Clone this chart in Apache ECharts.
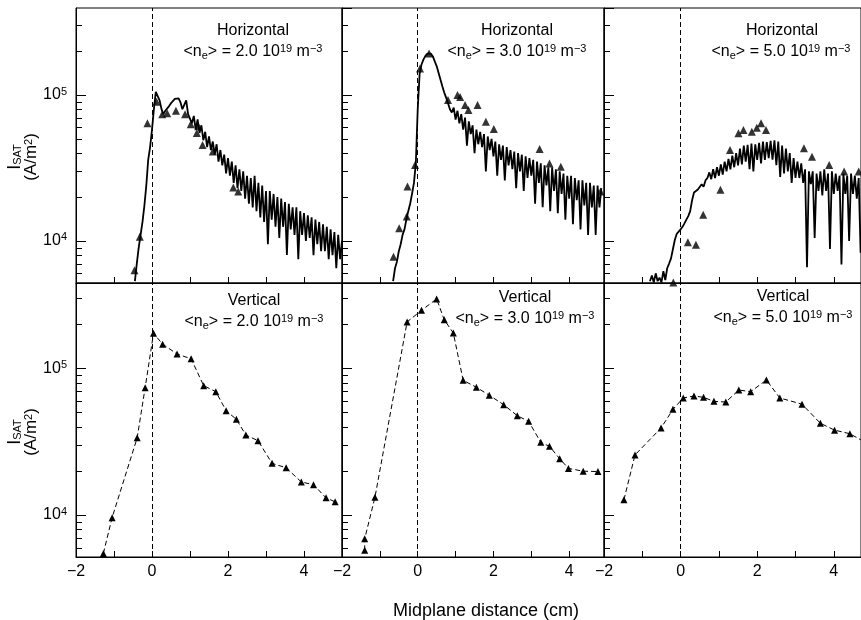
<!DOCTYPE html>
<html>
<head>
<meta charset="utf-8">
<script src="https://cdn.jsdelivr.net/npm/echarts@6/dist/echarts.min.js"></script>
<style>
  html, body { margin: 0; padding: 0; background: #fff; }
  #isat { width: 861px; height: 620px; }
</style>
</head>
<body>
<div id="isat"></div>
<script>
  var FONT = '"Liberation Sans", Arial, sans-serif';

  // probe traces (horizontal scan), one sample every 0.05 cm, values in 10^3 A/m2
  var sampleStep = 0.05;
  var hor20Start = -0.45;
  var hor20 = [5.3, 7.0, 9.0, 11.0, 13.5, 17.5, 24, 36, 44,
    58, 80, 105, 108, 92, 80, 74, 78, 76, 84, 88, 91, 94, 93, 95, 89, 80, 78, 92, 74,
    76, 64, 72, 58, 68, 55, 62, 49, 56, 44, 52, 42, 48, 39, 46, 35, 42, 33, 39, 29,
    37, 28, 35, 25, 33, 23, 31, 22, 30, 19.5, 28, 18, 27, 17, 28, 16, 25, 14.5, 24, 13.5,
    22, 9.5, 22, 14, 21, 12.5, 20, 10.5, 19.5, 12.5, 18.5, 8, 18, 12, 17, 11, 17, 7.5, 16, 11,
    15.5, 10, 15, 10.5, 14.5, 8, 14, 9.5, 13.5, 8.5, 13, 8.5, 12.5, 7.5, 12, 8, 11.5, 6.5, 11, 7.5, 10];
  var hor30Start = -0.65;
  var hor30 = [5.3, 6.5, 7.2, 8.5, 9.5, 11, 12, 14, 16, 18, 21, 25, 34,
    80, 140, 162, 175, 185, 192, 197, 192, 184, 170, 158, 142, 128, 115, 104, 96, 88, 80, 76, 82,
    68, 78, 64, 74, 58, 70, 45, 66, 54, 62, 40, 58, 46, 56, 44, 54, 30, 52, 42, 50,
    38, 48, 28, 46, 36, 45, 26, 44, 33, 42, 31, 41, 23, 40, 30, 39, 22, 38, 27, 37,
    28, 36, 18, 35, 25, 34, 17, 33, 24, 32, 16, 32, 22, 31, 15.5, 30, 21, 29, 14, 28,
    19.5, 28, 13, 27, 19, 26, 12, 26, 17.5, 25, 11, 25, 17, 24, 11, 24, 17, 23];
  var hor50Start = -0.80;
  var hor50 = [5.3, 5.8, 5.2, 6.0, 5.3, 5.6, 5.2, 6.2, 5.4, 6.5, 7.0, 7.6, 8.8, 10.2, 11.2, 11.6,
    12.0, 12.5, 13.2, 14, 14.8, 16, 19, 21.5, 21, 22.5, 22, 24.5, 23.5, 26, 27, 29.5, 26.5, 31, 27, 32,
    28, 33.5, 28.5, 35, 30, 36.5, 31, 38.5, 32, 40, 33, 43, 33.5, 45, 35, 45.5, 31, 46.5, 30, 46,
    36, 47, 34, 48, 36, 47.5, 37, 48.5, 36, 49, 33, 48, 27.5, 45, 29, 43, 30, 40, 25, 37,
    27, 35, 27, 34, 25, 31, 6.6, 30, 24.5, 30, 10.5, 29, 22, 30, 20.5, 31, 22, 29, 8.8, 30,
    21, 29, 22, 28, 6.9, 29, 21, 28, 10, 29, 21, 28, 19.5, 27, 8.3];

  // triangle measurements [cm, 10^3 A/m2]
  var horTri20 = [[-0.46, 6.3], [-0.32, 10.7], [-0.12, 64], [0.12, 90], [0.27, 74], [0.40, 75],
    [0.63, 78], [0.87, 74], [1.02, 63], [1.18, 55], [1.22, 61], [1.33, 45.5], [1.60, 41],
    [2.14, 23.2], [2.27, 21.8]];
  var horTri30 = [[-0.64, 7.8], [-0.49, 12.2], [-0.29, 14.7], [-0.27, 23.6], [-0.07, 33.2],
    [0.06, 152], [0.30, 193], [0.80, 92.5], [1.05, 100], [1.12, 97], [1.25, 85.5], [1.34, 79],
    [1.58, 85.5], [1.80, 65.6], [2.01, 58.5], [3.22, 42.7], [3.48, 34], [3.78, 32.3], [4.83, 21.8]];
  var horTri50 = [[-0.19, 5.2], [0.19, 9.8], [0.40, 9.4], [0.59, 15.1], [1.04, 22.4], [1.29, 42],
    [1.51, 54.7], [1.64, 57.6], [1.86, 56.1], [1.99, 59.7], [2.10, 64], [2.23, 57.6],
    [3.22, 43.2], [3.43, 37.8], [3.88, 33.2], [4.27, 29.9], [4.65, 29.9]];

  var verTri20 = [[-1.28, 5.48], [-1.05, 9.6], [-0.39, 33.6], [-0.18, 73.8], [0.04, 173], [0.28, 146],
    [0.66, 125], [1.03, 116], [1.36, 76.1], [1.68, 69.3], [1.95, 51.4], [2.22, 44.9], [2.47, 35.1],
    [2.79, 32.1], [3.16, 22.5], [3.53, 21.0], [3.93, 16.8], [4.25, 16.1], [4.58, 13.1], [4.82, 12.3]];
  var verTri30 = [[-1.40, 5.75], [-1.40, 6.9], [-1.13, 13.2], [-0.28, 207], [0.10, 248], [0.50, 297],
    [0.70, 214], [0.94, 174], [1.20, 82.8], [1.55, 74.2], [1.89, 65.5], [2.27, 56.5], [2.63, 47.5],
    [2.93, 43.5], [3.25, 31.3], [3.48, 29.4], [3.75, 24.2], [3.98, 20.8], [4.37, 19.9], [4.76, 19.8]];
  var verTri50 = [[-1.48, 12.7], [-1.19, 25.7], [-0.51, 39.2], [-0.20, 52.5], [0.07, 62.8], [0.35, 64.7],
    [0.60, 63.4], [0.87, 59.5], [1.18, 58.9], [1.52, 71.1], [1.83, 69.3], [2.24, 83.2], [2.59, 62.8],
    [3.17, 56.9], [3.65, 42.2], [4.02, 37.9], [4.42, 35.8], [4.90, 30.5]];

  var minorTicks = [6e3, 7e3, 8e3, 9e3, 2e4, 3e4, 4e4, 5e4, 6e4, 7e4, 8e4, 9e4, 2e5, 3e5];
  var xTickLabels = [-2, 0, 2, 4];
  var densities = ['2.0', '3.0', '5.0'];

  function trace(start, vals) {
    return vals.map(function (v, i) { return [+(start + i * sampleStep).toFixed(2), v * 1000]; });
  }
  function pts(list) {
    return list.map(function (p) { return [p[0], p[1] * 1000]; });
  }

  var cols = [
    { left: 76, width: 266, max: 5.0 },
    { left: 342, width: 262, max: 4.92 },
    { left: 604, width: 257, max: 4.71 }
  ];
  var rows = [
    { top: 8, height: 275, min: 5150, max: 395000 },
    { top: 283, height: 274, min: 5180, max: 381000 }
  ];
  var horData = [trace(hor20Start, hor20), trace(hor30Start, hor30), trace(hor50Start, hor50)];
  var horTri = [horTri20, horTri30, horTri50];
  var verTri = [verTri20, verTri30, verTri50];

  var supRich = {
    b: { fontSize: 16, lineHeight: 18, fontFamily: FONT, color: '#000' },
    sup: { fontSize: 11, lineHeight: 8, verticalAlign: 'top', fontFamily: FONT, color: '#000' },
    sub: { fontSize: 11, lineHeight: 8, verticalAlign: 'bottom', fontFamily: FONT, color: '#000' }
  };

  var grids = [], xAxes = [], yAxes = [], series = [];
  var zeroLine = {
    silent: true, symbol: ['none', 'none'], label: { show: false },
    lineStyle: { type: [5, 3], color: '#000', width: 1 },
    data: [{ xAxis: 0 }]
  };

  rows.forEach(function (row, r) {
    cols.forEach(function (col, c) {
      var g = r * 3 + c;
      grids.push({
        left: col.left, top: row.top, width: col.width, height: row.height,
        show: true, borderColor: '#000', borderWidth: 1
      });
      xAxes.push({
        gridIndex: g, type: 'value', min: -2, max: col.max, interval: 1,
        axisLine: { show: true, onZero: false, lineStyle: { color: '#000' } },
        axisTick: { inside: true, length: 6, lineStyle: { color: '#000' } },
        axisLabel: {
          show: r === 1, customValues: xTickLabels, margin: 7,
          fontSize: 16, fontFamily: FONT, color: '#000',
          formatter: function (v) { return v < 0 ? '\u2212' + (-v) : String(v); }
        },
        splitLine: { show: false }
      });
      yAxes.push({
        gridIndex: g, type: 'log', logBase: 10, min: row.min, max: row.max,
        axisLine: { show: true, onZero: false, lineStyle: { color: '#000' } },
        axisTick: { inside: true, length: 10, lineStyle: { color: '#000' } },
        axisLabel: {
          show: c === 0, margin: 9, showMinLabel: false, showMaxLabel: false,
          formatter: function (v) { return '{b|10}{sup|' + Math.round(Math.log10(v)) + '}'; },
          rich: supRich
        },
        splitLine: { show: false }
      });

      if (r === 0) {
        series.push({
          type: 'line', xAxisIndex: g, yAxisIndex: g, data: horData[c],
          showSymbol: false, lineStyle: { color: '#000', width: 1.8 },
          markLine: zeroLine
        });
        series.push({
          type: 'scatter', xAxisIndex: g, yAxisIndex: g, data: pts(horTri[c]),
          symbol: 'triangle', symbolSize: 8, itemStyle: { color: '#000' }
        });
      } else {
        series.push({
          type: 'line', xAxisIndex: g, yAxisIndex: g, data: pts(verTri[c]),
          symbol: 'triangle', symbolSize: 7, showSymbol: true,
          itemStyle: { color: '#000' },
          lineStyle: { color: '#000', width: 1, type: [5, 3] },
          markLine: zeroLine
        });
      }
    });
  });

  var textStyle = { fontSize: 16, fontFamily: FONT, fill: '#000', align: 'center', verticalAlign: 'middle' };
  function label(x, y, text) {
    return { type: 'text', x: x, y: y, silent: true, style: Object.assign({ text: text }, textStyle) };
  }
  function density(x, y, n) {
    return {
      type: 'text', x: x, y: y, silent: true,
      style: Object.assign({
        text: '{b|<n}{sub|e}{b|> = ' + n + ' 10}{sup|19}{b| m}{sup|\u22123}',
        rich: supRich
      }, textStyle)
    };
  }
  var graphics = [
    label(253, 31, 'Horizontal'), density(253, 52, densities[0]),
    label(517, 31, 'Horizontal'), density(517, 52, densities[1]),
    label(782, 31, 'Horizontal'), density(781, 52, densities[2]),
    label(254, 301, 'Vertical'), density(254, 322, densities[0]),
    label(525, 298, 'Vertical'), density(525, 319, densities[1]),
    label(783, 297, 'Vertical'), density(783, 318, densities[2])
  ];
  [157, 432].forEach(function (cy) {
    graphics.push({
      type: 'text', x: 23, y: cy, rotation: Math.PI / 2, silent: true,
      style: {
        text: '{i|I}{sub|SAT}\n{b|(A/m}{sup|2}{b|)}',
        fontSize: 17, fontFamily: FONT, fill: '#000', align: 'center', verticalAlign: 'middle',
        rich: {
          i: { fontSize: 18, lineHeight: 16, fontFamily: FONT, color: '#000' },
          b: { fontSize: 17, lineHeight: 16, fontFamily: FONT, color: '#000' },
          sup: { fontSize: 11, lineHeight: 8, verticalAlign: 'top', fontFamily: FONT, color: '#000' },
          sub: { fontSize: 11, lineHeight: 8, verticalAlign: 'bottom', fontFamily: FONT, color: '#000' }
        }
      }
    });
  });
  graphics.push({
    type: 'text', x: 486, y: 611, silent: true,
    style: { text: 'Midplane distance (cm)', fontSize: 18, fontFamily: FONT, fill: '#000', align: 'center', verticalAlign: 'middle' }
  });

  var myChart = echarts.init(document.getElementById('isat'));
  myChart.setOption({
    backgroundColor: '#fff',
    animation: false,
    grid: grids,
    xAxis: xAxes,
    yAxis: yAxes,
    series: series,
    graphic: graphics
  });

  // minor ticks at 2..9 x 10^n, placed through each grid's own log scale
  var tickLines = [];
  for (var g = 0; g < 6; g++) {
    minorTicks.forEach(function (v) {
      var p = myChart.convertToPixel({ gridIndex: g }, [-2, v]);
      if (!p || isNaN(p[1])) return;
      var y = Math.round(p[1]) + 0.5;
      tickLines.push({
        type: 'line', silent: true, z: 10,
        shape: { x1: p[0], y1: y, x2: p[0] + 6, y2: y },
        style: { stroke: '#000', lineWidth: 1 }
      });
    });
  }
  myChart.setOption({ graphic: graphics.concat(tickLines) });
</script>
</body>
</html>
